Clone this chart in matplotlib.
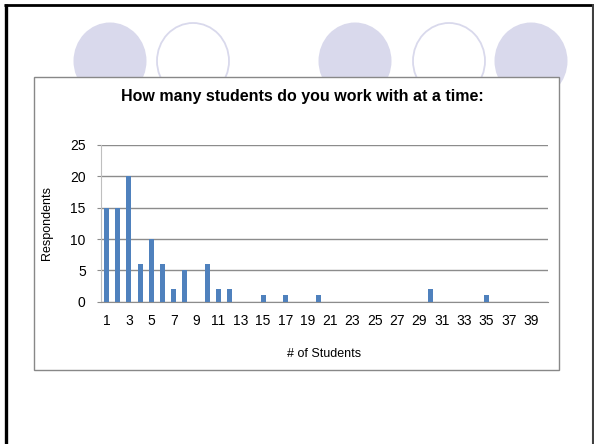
import matplotlib
matplotlib.use("Agg")
import matplotlib.pyplot as plt
from matplotlib.patches import Ellipse, Rectangle

plt.rcParams['font.family'] = ['Liberation Sans', 'DejaVu Sans']

# Data
students = list(range(1, 41))
respondents = [15, 15, 20, 6, 10, 6, 2, 5, 0, 6,
               2, 2, 0, 0, 1, 0, 1, 0, 0, 1,
               0, 0, 0, 0, 0, 0, 0, 0, 0, 2,
               0, 0, 0, 0, 1, 0, 0, 0, 0, 0]
xtick_labels = [str(v) for v in range(1, 40, 2)]
yticks = [0, 5, 10, 15, 20, 25]
title = "How many students do you work with at a time:"
xlabel = "# of Students"
ylabel = "Respondents"

W, H = 594, 444
fig = plt.figure(figsize=(W / 100, H / 100), dpi=100)

# background (slide) axes in pixel coordinates
bg = fig.add_axes([0, 0, 1, 1])
bg.set_xlim(0, W)
bg.set_ylim(H, 0)
bg.axis('off')

lav = '#D9D9EC'
for cx, filled in [(110, True), (193, False), (355, True), (449, False), (531, True)]:
    if filled:
        bg.add_patch(Ellipse((cx, 61), 73, 77, facecolor=lav, edgecolor='none'))
    else:
        bg.add_patch(Ellipse((cx, 61), 72, 76, facecolor='white', edgecolor=lav, lw=1.3))

# chart box
bg.add_patch(Rectangle((34, 77), 525, 293, facecolor='white', edgecolor='#888888', lw=1.0, zorder=3))

# slide frame
bg.plot([5.5, 5.5], [4, H], color='black', lw=2.4, solid_capstyle='butt', zorder=4)
bg.plot([4, W], [5, 5], color='black', lw=2.0, solid_capstyle='butt', zorder=4)
bg.plot([592.5, 592.5], [4, H], color='#404040', lw=1.5, solid_capstyle='butt', zorder=4)

# chart axes
left, right = 101 / W, 548 / W
bottom, top = 1 - 301.7 / H, 1 - 145 / H
ax = fig.add_axes([left, bottom, right - left, top - bottom])
ax.set_facecolor('none')
ax.bar(students, respondents, width=0.45, color='#4F81BD', zorder=3)
ax.set_xlim(0.5, 40.5)
ax.set_ylim(0, 25)
ax.set_yticks(yticks)
ax.set_xticks(list(range(1, 40, 2)))
ax.set_xticklabels(xtick_labels)
ax.yaxis.grid(True, color='#8C8C8C', lw=1.0)
ax.set_axisbelow(True)
for s in ['top', 'right']:
    ax.spines[s].set_visible(False)
ax.spines['left'].set_color('#BFBFBF')
ax.spines['bottom'].set_color('#8C8C8C')
ax.tick_params(axis='y', length=3, color='#8C8C8C', pad=8, labelsize=10)
ax.tick_params(axis='x', length=0, pad=9, labelsize=10)
ax.set_xlabel(xlabel, fontsize=9, labelpad=14)
ax.set_ylabel(ylabel, fontsize=9, labelpad=12)

fig.text(302 / W, 1 - 96 / H, title, ha='center', va='center', fontsize=11.5, fontweight='bold')

fig.savefig('out.png', dpi=100)
